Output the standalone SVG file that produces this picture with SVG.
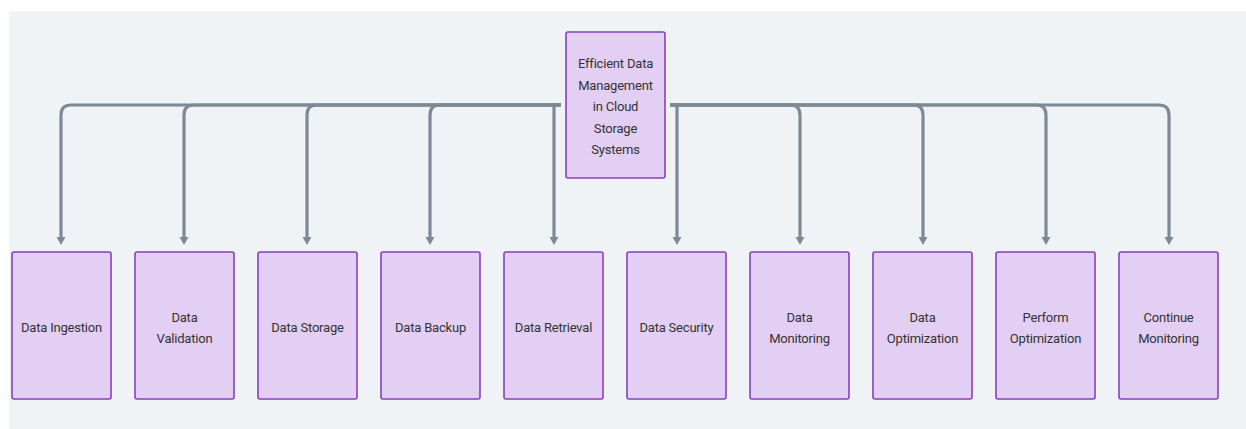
<svg xmlns="http://www.w3.org/2000/svg" width="1246" height="429" viewBox="0 0 1246 429">
<style>
.bg{fill:#eff3f6}
.node rect{fill:#e3cff4;stroke:#8a3fba;stroke-width:1.6}
.node text{font-family:Roboto,"Liberation Sans",sans-serif;font-size:13px;letter-spacing:-0.2px;fill:#333;text-anchor:middle}
.edge{fill:none;stroke:#7d8a96;stroke-width:3.2}
.head{fill:#7d8a96}
</style>
<rect class="bg" x="9" y="11" width="1237" height="418"/>
<g id="connectors">
<path class="edge" d="M561 105 H71 Q61 105 61 115 V237"/>
<path class="edge" d="M561 105 H194 Q184 105 184 115 V237"/>
<path class="edge" d="M561 105 H317 Q307 105 307 115 V237"/>
<path class="edge" d="M561 105 H440 Q430 105 430 115 V237"/>
<path class="edge" d="M561 105 H554 V237"/>
<path class="edge" d="M670 105 H677 V237"/>
<path class="edge" d="M670 105 H790 Q800 105 800 115 V237"/>
<path class="edge" d="M670 105 H913 Q923 105 923 115 V237"/>
<path class="edge" d="M670 105 H1036 Q1046 105 1046 115 V237"/>
<path class="edge" d="M670 105 H1159 Q1169 105 1169 115 V237"/>
<path class="head" d="M56.5 237 H65.5 L61 245 Z"/>
<path class="head" d="M179.5 237 H188.5 L184 245 Z"/>
<path class="head" d="M302.5 237 H311.5 L307 245 Z"/>
<path class="head" d="M425.5 237 H434.5 L430 245 Z"/>
<path class="head" d="M549.5 237 H558.5 L554 245 Z"/>
<path class="head" d="M672.5 237 H681.5 L677 245 Z"/>
<path class="head" d="M795.5 237 H804.5 L800 245 Z"/>
<path class="head" d="M918.5 237 H927.5 L923 245 Z"/>
<path class="head" d="M1041.5 237 H1050.5 L1046 245 Z"/>
<path class="head" d="M1164.5 237 H1173.5 L1169 245 Z"/>
</g>
<g id="root" class="node">
<rect x="566" y="32" width="99" height="146" rx="2"/>
<text x="615.5" y="68">Efficient Data</text>
<text x="615.5" y="90">Management</text>
<text x="615.5" y="111">in Cloud</text>
<text x="615.5" y="133">Storage</text>
<text x="615.5" y="154">Systems</text>
</g>
<g id="n1" class="node"><rect x="12" y="252" width="99" height="147" rx="2"/><text x="61.5" y="332">Data Ingestion</text></g>
<g id="n2" class="node"><rect x="135" y="252" width="99" height="147" rx="2"/><text x="184.5" y="322">Data</text><text x="184.5" y="343">Validation</text></g>
<g id="n3" class="node"><rect x="258" y="252" width="99" height="147" rx="2"/><text x="307.5" y="332">Data Storage</text></g>
<g id="n4" class="node"><rect x="381" y="252" width="99" height="147" rx="2"/><text x="430.5" y="332">Data Backup</text></g>
<g id="n5" class="node"><rect x="504" y="252" width="99" height="147" rx="2"/><text x="553.5" y="332">Data Retrieval</text></g>
<g id="n6" class="node"><rect x="627" y="252" width="99" height="147" rx="2"/><text x="676.5" y="332">Data Security</text></g>
<g id="n7" class="node"><rect x="750" y="252" width="99" height="147" rx="2"/><text x="799.5" y="322">Data</text><text x="799.5" y="343">Monitoring</text></g>
<g id="n8" class="node"><rect x="873" y="252" width="99" height="147" rx="2"/><text x="922.5" y="322">Data</text><text x="922.5" y="343">Optimization</text></g>
<g id="n9" class="node"><rect x="996" y="252" width="99" height="147" rx="2"/><text x="1045.5" y="322">Perform</text><text x="1045.5" y="343">Optimization</text></g>
<g id="n10" class="node"><rect x="1119" y="252" width="99" height="147" rx="2"/><text x="1168.5" y="322">Continue</text><text x="1168.5" y="343">Monitoring</text></g>
</svg>
